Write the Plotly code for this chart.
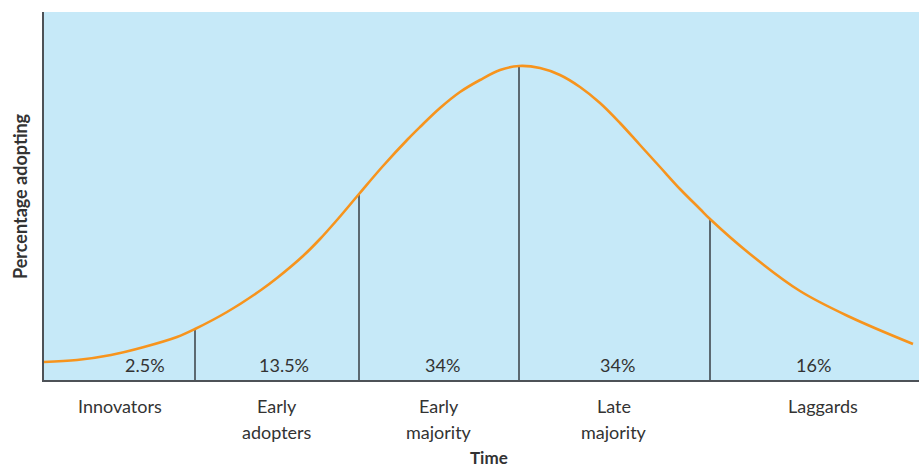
import plotly.graph_objects as go

# Adoption curve: time (x) vs. share adopting (y), arbitrary units
curve_time = [0, 33, 67, 100, 133, 151, 183, 217, 233, 259, 276, 293, 315,
              339, 364, 376, 396, 416, 436, 456, 475, 496, 516, 536, 556,
              576, 596, 616, 636, 656, 666, 706, 756, 806, 869]
curve_share = [18, 20, 25, 33, 43, 51, 68, 90, 102, 124, 141, 160, 186,
               214, 241, 253, 272, 288, 300, 310, 314, 312, 305, 293, 277,
               257, 235, 213, 191, 171, 161, 126, 89, 63, 36]

# Segment boundaries along the time axis (points on the curve)
boundary_time = [151, 315, 475, 666]

# Segment labels and their shares
segment_centers = [101, 240, 398, 573, 769]
segment_shares = ["2.5%", "13.5%", "34%", "34%", "16%"]
category_centers = [76, 233, 395, 570, 779]
category_labels = [["Innovators"], ["Early", "adopters"], ["Early", "majority"],
                   ["Late", "majority"], ["Laggards"]]

X_RANGE = [0, 875]
Y_RANGE = [0, 368]

BG = "#c6e9f8"
ORANGE = "#f7941d"
TEXT = "#333333"
FONT = "Lato"

fig = go.Figure()

# Divider lines from the baseline up to the curve
for bt in boundary_time:
    yb = curve_share[curve_time.index(bt)]
    fig.add_trace(go.Scatter(
        x=[bt, bt], y=[0, yb], mode="lines",
        line=dict(color="#2e3338", width=1.4),
        hoverinfo="skip", showlegend=False))

fig.add_trace(go.Scatter(
    x=curve_time, y=curve_share, mode="lines",
    line=dict(color=ORANGE, width=2.6, shape="spline", smoothing=1.0),
    showlegend=False))

PLOT_H = Y_RANGE[1] - Y_RANGE[0]  # plot height in px equals y span

annotations = []
for xc, s in zip(segment_centers, segment_shares):
    annotations.append(dict(
        x=xc, y=15, xref="x", yref="y", text=s, showarrow=False,
        font=dict(family=FONT, size=18, color=TEXT), xanchor="center", yanchor="middle"))

for xc, lines in zip(category_centers, category_labels):
    for i, line in enumerate(lines):
        annotations.append(dict(
            x=xc, y=(-26 - 26 * i) / PLOT_H, xref="x", yref="paper", text=line,
            showarrow=False, font=dict(family=FONT, size=18, color=TEXT),
            xanchor="center", yanchor="middle"))

annotations.append(dict(
    x=445, y=-77 / PLOT_H, xref="x", yref="paper", text="<b>Time</b>", showarrow=False,
    font=dict(family=FONT, size=17, color=TEXT), xanchor="center", yanchor="middle"))
annotations.append(dict(
    x=0, y=0.5, xref="paper", yref="paper", xshift=-24, text="<b>Percentage adopting</b>",
    textangle=-90, showarrow=False,
    font=dict(family=FONT, size=18, color=TEXT), xanchor="center", yanchor="middle"))

fig.update_layout(
    width=919, height=469,
    margin=dict(l=44, r=0, t=12, b=89),
    paper_bgcolor="white", plot_bgcolor=BG,
    annotations=annotations,
    xaxis=dict(range=X_RANGE, showgrid=False, zeroline=False, showticklabels=False,
               ticks="", showline=True, linecolor="#4d5257", linewidth=2, fixedrange=True),
    yaxis=dict(range=Y_RANGE, showgrid=False, zeroline=False, showticklabels=False,
               ticks="", showline=True, linecolor="#4d5257", linewidth=2, fixedrange=True),
)

fig.write_html("out.html")
